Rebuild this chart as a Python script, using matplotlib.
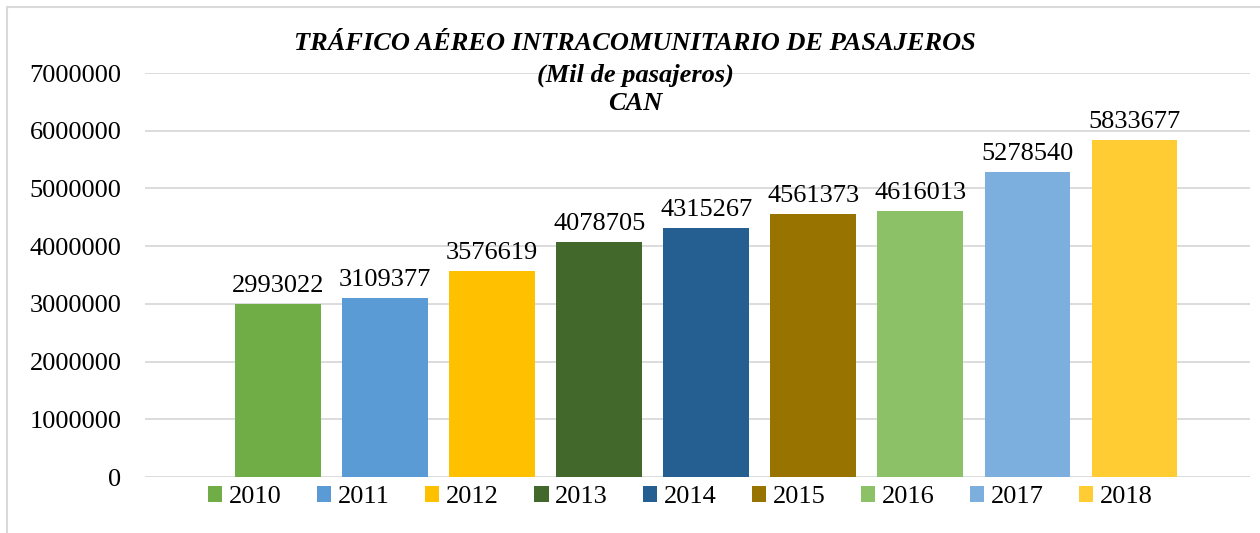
import matplotlib.pyplot as plt
from matplotlib.patches import Rectangle

# Data
years = ['2010', '2011', '2012', '2013', '2014', '2015', '2016', '2017', '2018']
passengers = [2993022, 3109377, 3576619, 4078705, 4315267, 4561373, 4616013, 5278540, 5833677]
colors = ['#70AD47', '#5B9BD5', '#FFC000', '#43682B', '#255E91',
          '#997300', '#8CC168', '#7CAFDD', '#FFCD33']
yticks = [0, 1000000, 2000000, 3000000, 4000000, 5000000, 6000000, 7000000]

plt.rcParams['font.family'] = ['Liberation Serif', 'DejaVu Serif']

fig = plt.figure(figsize=(12.6, 5.33), dpi=100)
ax = fig.add_axes([145 / 1260, 1 - 477 / 533, (1250 - 145) / 1260, (477 - 73) / 533])

# chart border (Excel style)
fig.patches.append(Rectangle((7 / 1260, -0.1), 1.2, 1 - 7 / 533 + 0.1,
                             transform=fig.transFigure, fill=False,
                             edgecolor='#D9D9D9', linewidth=1.5))

bars = []
for i, (yr, val, c) in enumerate(zip(years, passengers, colors)):
    b = ax.bar(i, val, width=0.8, color=c, label=yr, zorder=2)
    bars.append(b)
    ax.annotate(str(val), (i, val), xytext=(0, 5), textcoords='offset points',
                ha='center', va='bottom', fontsize=19)

ax.set_ylim(0, 7000000)
ax.set_xlim(-1.243, 9.08)
ax.set_yticks(yticks)
ax.set_yticklabels([str(t) for t in yticks], fontsize=19)
ax.set_xticks([])
ax.tick_params(axis='y', length=0, pad=17)
ax.grid(axis='y', color='#D9D9D9', linewidth=1.3, zorder=0)
for s in ax.spines.values():
    s.set_visible(False)

title_kw = dict(ha='center', va='center', fontsize=19, fontweight='bold', fontstyle='italic')
fig.text(0.504, 1 - 44 / 533, 'TRÁFICO AÉREO INTRACOMUNITARIO DE PASAJEROS', **title_kw)
fig.text(0.504, 1 - 75 / 533, '(Mil de pasajeros)', **title_kw)
fig.text(0.504, 1 - 103 / 533, 'CAN', **title_kw)

fig.legend(handles=[b[0] for b in bars], labels=years, loc='center',
           bbox_to_anchor=(0.540, 1 - 497 / 533), ncol=9, frameon=False,
           fontsize=19, handlelength=0.55, handleheight=0.55,
           handletextpad=0.25, columnspacing=1.33)

fig.savefig('out.png', dpi=100)
